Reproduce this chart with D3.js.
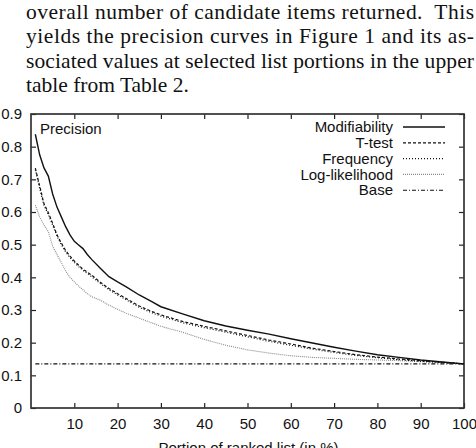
<!DOCTYPE html>
<html>
<head>
<meta charset="utf-8">
<script src="https://cdn.jsdelivr.net/npm/d3@7"></script>
<style>
  body { margin: 0; background: #fff; }
</style>
</head>
<body>
<div id="chart"></div>
<script>
// portion of ranked list (%)
var portion = [1, 2, 3, 4, 5, 6, 7, 8, 9, 10, 11, 12, 13, 14, 16, 18, 20, 22, 25, 28, 30, 35, 40, 45, 50, 55, 60, 65, 70, 75, 80, 85, 90, 95, 100];

var modifiability = [0.838, 0.775, 0.735, 0.710, 0.655, 0.615, 0.585, 0.555, 0.530, 0.510, 0.499, 0.488, 0.470, 0.455, 0.428, 0.402, 0.386, 0.371, 0.346, 0.325, 0.310, 0.288, 0.267, 0.251, 0.238, 0.226, 0.212, 0.199, 0.186, 0.174, 0.163, 0.155, 0.147, 0.141, 0.135];
var ttest = [0.734, 0.680, 0.625, 0.598, 0.565, 0.530, 0.505, 0.482, 0.465, 0.450, 0.437, 0.425, 0.416, 0.407, 0.385, 0.366, 0.350, 0.335, 0.312, 0.295, 0.285, 0.265, 0.250, 0.236, 0.222, 0.208, 0.196, 0.183, 0.173, 0.163, 0.156, 0.150, 0.145, 0.140, 0.135];
var frequency = [0.730, 0.672, 0.620, 0.592, 0.560, 0.526, 0.500, 0.478, 0.460, 0.446, 0.433, 0.421, 0.412, 0.402, 0.381, 0.362, 0.346, 0.331, 0.308, 0.291, 0.281, 0.261, 0.246, 0.232, 0.218, 0.204, 0.192, 0.180, 0.170, 0.161, 0.154, 0.148, 0.143, 0.139, 0.135];
var loglik = [0.621, 0.585, 0.560, 0.540, 0.495, 0.470, 0.445, 0.420, 0.400, 0.386, 0.373, 0.362, 0.350, 0.341, 0.330, 0.315, 0.302, 0.290, 0.275, 0.260, 0.250, 0.232, 0.210, 0.192, 0.178, 0.168, 0.160, 0.155, 0.152, 0.149, 0.147, 0.145, 0.142, 0.139, 0.135];
var base = 0.135;

var seriesNames = ["Modifiability", "T-test", "Frequency", "Log-likelihood", "Base"];
var xTicks = [10, 20, 30, 40, 50, 60, 70, 80, 90, 100];
var yTicks = [0, 0.1, 0.2, 0.3, 0.4, 0.5, 0.6, 0.7, 0.8, 0.9];

var paragraph = [
  "overall number of candidate items returned.  This",
  "yields the precision curves in Figure 1 and its as-",
  "sociated values at selected list portions in the upper",
  "table from Table 2."
];

var W = 476, H = 448;
var margin = {top: 114, right: 12, bottom: 40, left: 31},
    width = W - margin.left - margin.right,
    height = H - margin.top - margin.bottom;

var svg = d3.select("#chart")
  .append("svg")
    .attr("width", W)
    .attr("height", H);

// paper text above the figure
var para = svg.append("g")
  .style("font-family", "'Liberation Serif', 'Times New Roman', serif")
  .style("font-size", "21.5px")
  .attr("fill", "#111");
paragraph.forEach(function(line, i) {
  var t = para.append("text")
    .attr("x", 26)
    .attr("y", 18.5 + i * 24.5)
    .style("white-space", "pre")
    .text(line);
  if (i < paragraph.length - 1) {
    t.attr("textLength", 448).attr("lengthAdjust", "spacing");
  }
});

var g = svg.append("g")
  .attr("transform", "translate(" + margin.left + "," + margin.top + ")");

var x = d3.scaleLinear().domain([0, 100]).range([0, width]);
var y = d3.scaleLinear().domain([0, 0.9]).range([height, 0]);

var font = "'Liberation Sans', Arial, sans-serif";

// axes: gnuplot style, ticks pointing inward, mirrored
g.append("g")
  .attr("transform", "translate(0," + height + ")")
  .call(d3.axisBottom(x).tickValues(xTicks).tickSize(-5).tickPadding(10))
  .call(function(a) {
    a.select(".domain").remove();
    a.selectAll("text").style("font-family", font).style("font-size", "15px").attr("fill", "#111");
  });
g.append("g")
  .call(d3.axisTop(x).tickValues(xTicks).tickSize(-5).tickFormat(""))
  .call(function(a) { a.select(".domain").remove(); });
g.append("g")
  .call(d3.axisLeft(y).tickValues(yTicks).tickSize(-5).tickPadding(9)
    .tickFormat(function(d) { return d === 0 ? "0" : d3.format(".1f")(d); }))
  .call(function(a) {
    a.select(".domain").remove();
    a.selectAll("text").style("font-family", font).style("font-size", "15px").attr("fill", "#111");
  });
g.append("g")
  .attr("transform", "translate(" + width + ",0)")
  .call(d3.axisRight(y).tickValues(yTicks).tickSize(-5).tickFormat(""))
  .call(function(a) { a.select(".domain").remove(); });

g.selectAll(".tick line").attr("stroke", "#222").attr("stroke-width", 1.2);

g.append("rect")
  .attr("width", width)
  .attr("height", height)
  .attr("fill", "none")
  .attr("stroke", "#333")
  .attr("stroke-width", 1.7);

// x axis title (cut by the page edge, as in the source)
g.append("text")
  .attr("x", width / 2 + 1)
  .attr("y", height + 45)
  .attr("text-anchor", "middle")
  .style("font-family", font)
  .style("font-size", "15px")
  .attr("fill", "#111")
  .text("Portion of ranked list (in %)");

g.append("text")
  .attr("x", 9)
  .attr("y", 20)
  .style("font-family", font)
  .style("font-size", "15px")
  .attr("fill", "#111")
  .text("Precision");

var styles = [
  {values: modifiability, dash: null, color: "#111", w: 1.4},
  {values: ttest, dash: "3,2", color: "#111", w: 1.2},
  {values: frequency, dash: "1,2", color: "#111", w: 1.2},
  {values: loglik, dash: "1,1", color: "#888", w: 1.1},
  {values: portion.map(function() { return base; }), dash: "4,2,1,2", color: "#111", w: 1.1}
];

var line = d3.line()
  .x(function(d) { return x(d[0]); })
  .y(function(d) { return y(d[1]); });

styles.slice().reverse().forEach(function(s) {
  g.append("path")
    .datum(d3.zip(portion, s.values))
    .attr("d", line)
    .attr("fill", "none")
    .attr("stroke", s.color)
    .attr("stroke-width", s.w)
    .attr("stroke-dasharray", s.dash);
});

// legend, top right
var legend = g.append("g");
seriesNames.forEach(function(name, i) {
  var ly = 13 + i * 15.8;
  legend.append("text")
    .attr("x", 362)
    .attr("y", ly)
    .attr("dy", "0.35em")
    .attr("text-anchor", "end")
    .style("font-family", font)
    .style("font-size", "15px")
    .attr("fill", "#111")
    .text(name);
  legend.append("line")
    .attr("x1", 372)
    .attr("x2", 414)
    .attr("y1", ly)
    .attr("y2", ly)
    .attr("stroke", styles[i].color)
    .attr("stroke-width", styles[i].w)
    .attr("stroke-dasharray", styles[i].dash);
});
</script>
</body>
</html>
